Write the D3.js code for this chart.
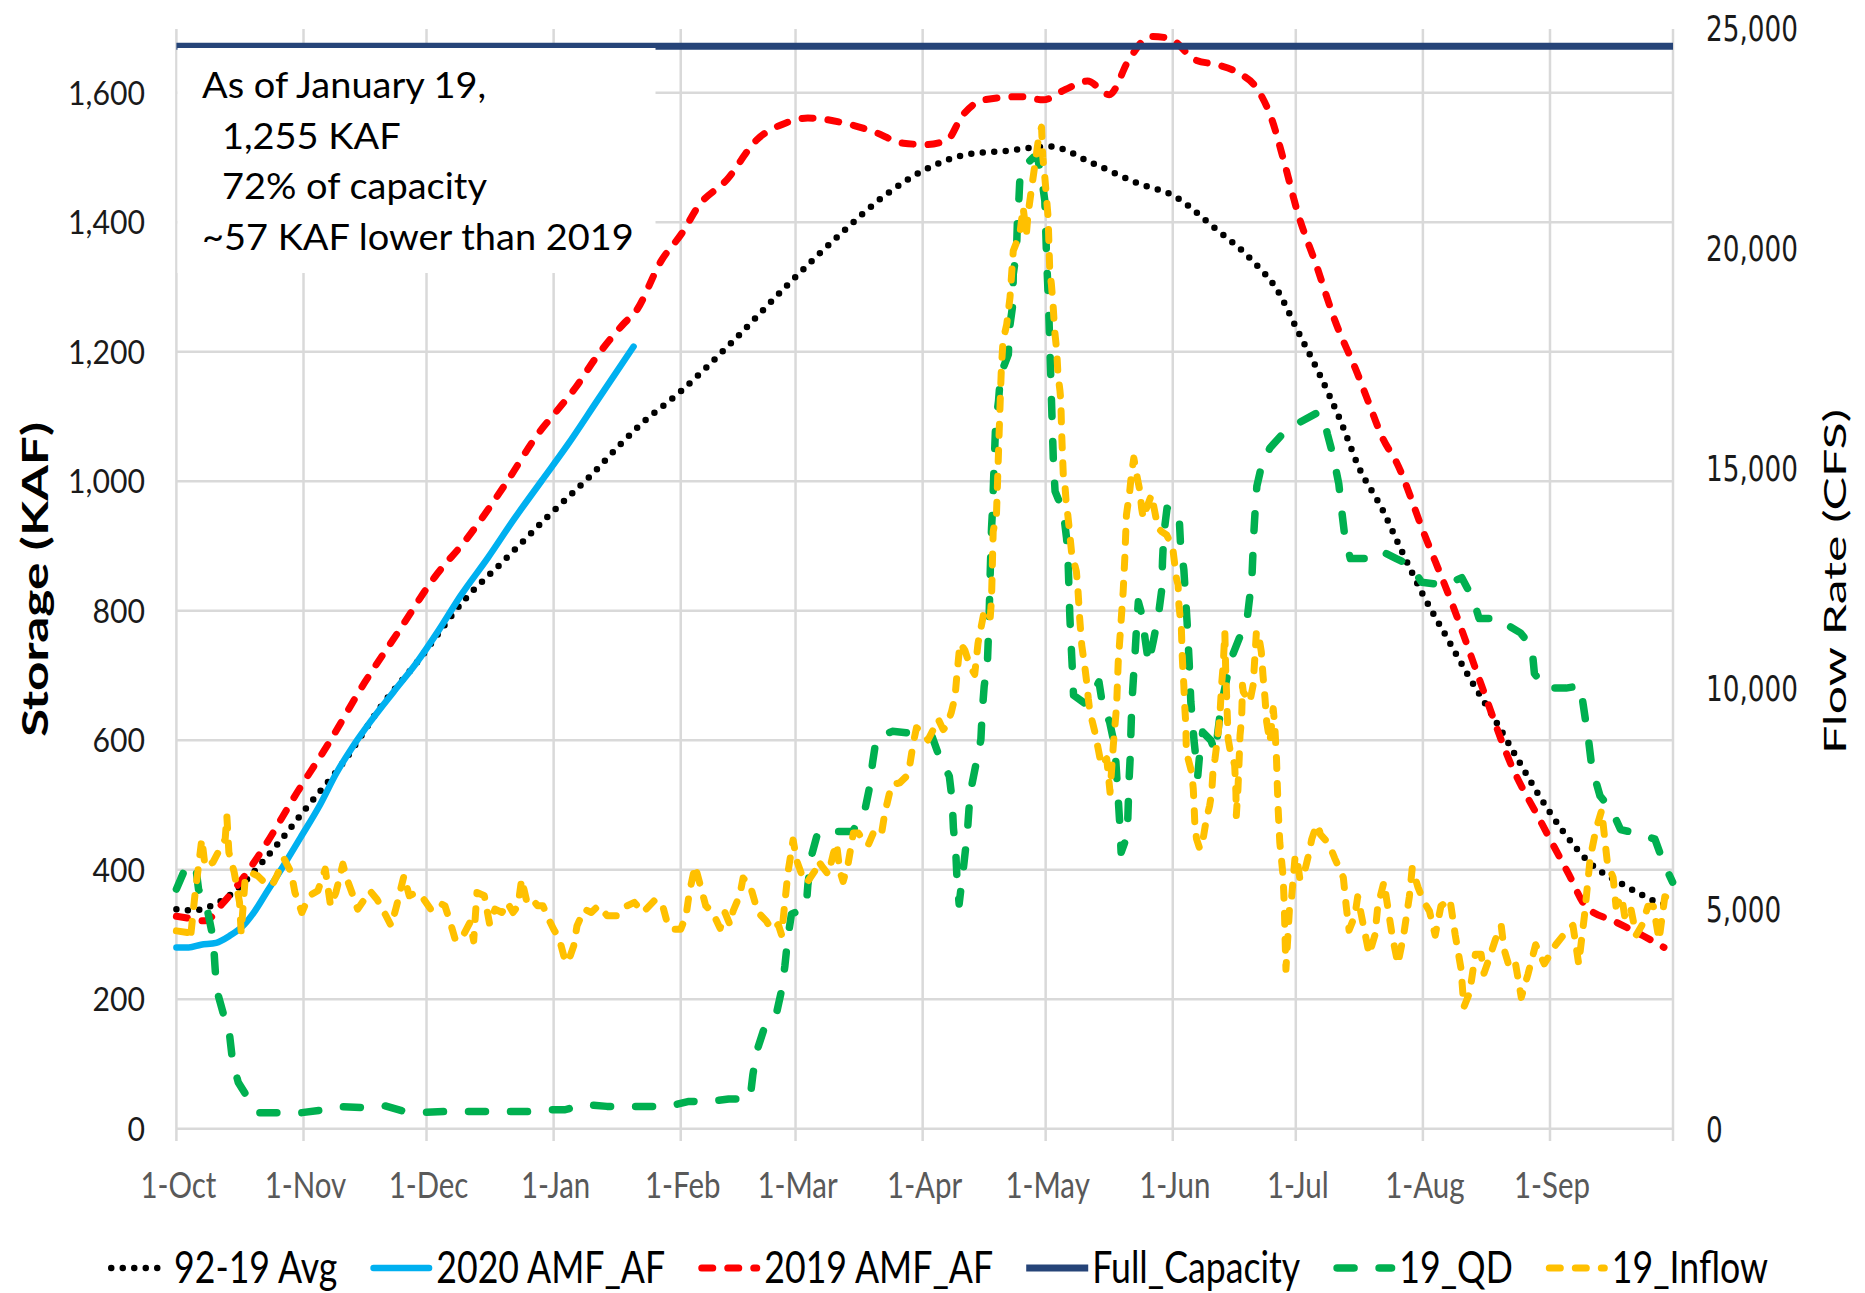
<!DOCTYPE html>
<html><head><meta charset="utf-8">
<script src="https://cdn.jsdelivr.net/npm/d3@7"></script>
<style>html,body{margin:0;padding:0;background:#fff;} svg{display:block;}</style>
</head><body>
<svg id="chart" width="1865" height="1293"></svg>
<script>
// ---------------- DATA ----------------
// x values are days since 1-Oct (water year), y values in KAF (storage) or CFS (flow)
const monthLabels = ["1-Oct","1-Nov","1-Dec","1-Jan","1-Feb","1-Mar","1-Apr","1-May","1-Jun","1-Jul","1-Aug","1-Sep"];
const storageTicks = [0,200,400,600,800,1000,1200,1400,1600];
const flowTicks = [0,5000,10000,15000,20000,25000];
const seriesNames = ["92-19 Avg","2020 AMF_AF","2019 AMF_AF","Full_Capacity","19_QD","19_Inflow"];
const annotationLines = ["As of January 19,","1,255 KAF","72% of capacity","~57 KAF lower than 2019"];
const fullCapacity = 1672;

const avg9219 = [[0,339],[4,337],[8,343],[12,356],[17.5,387],[21,412],[25,442],[31,490],[40.5,564],[50,653],[59,723],[70,815],[79.5,875],[90.5,945],[102,1015],[108,1055],[113.3,1088],[122.5,1136],[136,1218],[149.5,1306],[163,1388],[172.5,1440],[182.5,1481],[193,1505],[202,1510],[213,1517],[223.5,1491],[234.5,1460],[243.5,1440],[252.5,1395],[262.5,1340],[268.5,1295],[273.5,1232],[278.8,1165],[283.8,1095],[288.5,1020],[294,958],[299,890],[304,825],[310,757],[315.5,695],[321,638],[327,572],[332.5,513],[338,461],[345,409],[352,380],[357.5,361],[363,346],[364.5,345]];

const amf2020 = [[0,280],[3,280],[6,284],[9.7,287],[13,298],[16.2,313],[19,335],[21.6,361],[26,405],[30.3,450],[35,500],[39,549],[43,590],[47.6,631],[53,675],[58.5,719],[64,770],[69.3,823],[76,882],[82.3,941],[89,1000],[95.4,1056],[102.8,1126],[111.5,1208]];

const amf2019 = [[0,328],[3,325],[7,321],[11,346],[16,385],[21,431],[29.5,520],[37,594],[46,690],[54.5,771],[63,852],[70.8,911],[80.7,1000],[88.3,1074],[92.7,1108],[97.5,1146],[102,1188],[109.2,1244],[112,1262],[118.2,1340],[123.5,1385],[127.2,1424],[134.3,1466],[141.5,1527],[148.5,1553],[154,1561],[163,1553],[170,1540],[177.3,1522],[182.8,1520],[188,1527],[191.6,1564],[197,1589],[205.9,1594],[211.4,1589],[216.8,1605],[222.2,1618],[227.5,1597],[232.3,1651],[237.6,1687],[242.2,1684],[248.4,1651],[253.9,1643],[259.2,1630],[263.7,1605],[267.2,1558],[270,1497],[273.5,1414],[278.1,1332],[282.5,1249],[288,1167],[290.5,1126],[294.3,1065],[297.5,1030],[304.3,919],[311.3,808],[318.4,683],[325.4,564],[332.6,476],[339.5,394],[343.8,343],[350.8,320],[357.7,298],[362.8,280]];

const qd19 = [[0,5442],[2.3,5943],[3.5,6000],[4.7,5965],[5.4,5440],[7.6,4948],[9,4304],[9.4,3700],[9.8,3165],[11.6,2557],[12.9,2186],[13.7,1532],[15.1,1047],[17.7,660],[20.2,364],[30,357],[35.9,430],[40,500],[45.5,480],[50.6,525],[55,410],[60.3,370],[65.4,390],[80.2,390],[85.3,390],[90.2,430],[94.8,430],[99.2,550],[105,507],[120,507],[125,620],[130,615],[134.7,675],[139.9,675],[140.6,1230],[141.6,1776],[143.5,2322],[146.4,2641],[147.6,3147],[148.4,3696],[149.1,4326],[150,4873],[153.6,5032],[154,5533],[154.9,6205],[156.4,6717],[161.3,6753],[164.9,6753],[167.8,7183],[169,7732],[169.8,8320],[170.7,8869],[174.6,9025],[178.8,8987],[184.3,8910],[186.1,8438],[188.5,8008],[189.2,7459],[189.5,6831],[190.1,6243],[190.4,5615],[190.9,5105],[192.1,6048],[192.9,6717],[193.3,7264],[194,7810],[196.2,8835],[196.5,9418],[197,10042],[197.8,10595],[198.2,11600],[198.5,12700],[198.8,13639],[199.1,14170],[199.4,15000],[199.8,15991],[200.5,16524],[201,17130],[202.9,17585],[203.2,18193],[204,18724],[204.1,19406],[204.9,19939],[205.1,20584],[205.5,21153],[205.8,21760],[209,22064],[210,22064],[211,21609],[211.8,21078],[212.2,19862],[212.7,18724],[213.1,17510],[213.5,16296],[213.9,15119],[214.3,14475],[216.3,14020],[217.1,13411],[217.5,12804],[217.9,11628],[218.2,11025],[218.5,10452],[218.8,9844],[221.7,9654],[223.5,9900],[225,10149],[225.9,9616],[227.6,9238],[228.9,8669],[229.3,8060],[229.7,7491],[230.1,6883],[230.4,6277],[231.9,6656],[232.1,7225],[232.3,7833],[232.6,8402],[232.8,9010],[233,9616],[233.4,10224],[233.8,10793],[234.2,11438],[234.6,11970],[235.5,11665],[236.3,11096],[237.1,10565],[238.3,11096],[239.5,11665],[240.3,12234],[240.5,12900],[240.8,13487],[241.6,14094],[244.5,14020],[244.9,13259],[245.7,12700],[246.5,11500],[247,10600],[247.4,9700],[248.2,8800],[249.1,8023],[249.5,8441],[250.3,9010],[252.3,8820],[253.4,8555],[254.6,9465],[255.5,9920],[257.1,10641],[259.2,11134],[261.2,11628],[262.3,12500],[262.7,13411],[263.1,14056],[263.5,14588],[264.7,15081],[266.7,15461],[270,15802],[273.7,16030],[278.2,16258],[279.7,16200],[280.7,15782],[282.1,15292],[283.5,14641],[284.2,14040],[284.9,13494],[286.3,12949],[291.2,12949],[293.9,13116],[297.5,12949],[301.1,12785],[303.7,12410],[309.3,12350],[313.5,12514],[316.3,12022],[317.7,11590],[322.9,11590],[324.9,11424],[327.8,11262],[330.6,10934],[331.2,10338],[333.9,10007],[338.9,10007],[342.4,10064],[343.1,9631],[344.5,8755],[345.2,8210],[347.2,7560],[350.1,7230],[352.2,6795],[357.1,6685],[360.6,6576],[362.7,6034],[364.9,5601]];

const inflow19 = [[0,4493],[2.8,4456],[3.4,4300],[4.5,5290],[6.2,6580],[7,5950],[8.9,6050],[10.6,6353],[11.9,6580],[12.3,7111],[12.8,6277],[14.1,5822],[15.4,5139],[15.8,4456],[16.7,5594],[18,5822],[19.8,5745],[21.5,5594],[23.3,5518],[24.5,5745],[26.3,6125],[28,5822],[28.9,5366],[30.6,4911],[32.4,5290],[34.5,5404],[36.3,5897],[37.6,5062],[38.9,5366],[40.6,6011],[41.6,5670],[42.8,5366],[44.2,4987],[45.9,5214],[47.2,5404],[48.9,5214],[50.7,4911],[52.4,4607],[53.7,5062],[55.5,5745],[56.8,5290],[58.5,5366],[60.3,5214],[62,4987],[63.8,5139],[65.5,5062],[66.8,4684],[68.1,4265],[69.9,4379],[71.6,4684],[72.5,4265],[73.3,5366],[75.1,5290],[76.4,4645],[77.7,4987],[79.4,4911],[80.7,5139],[82.1,4911],[83.3,5062],[84.2,5670],[85.5,5139],[86.8,5214],[88.1,5062],[89.4,5062],[90.8,4759],[92,4531],[93.4,4304],[94.7,3848],[95.5,3772],[96.9,4152],[97.7,4607],[99.5,4987],[101.2,4911],[102.9,5062],[105.1,4835],[107.3,4835],[109.9,5062],[111.7,5139],[113.8,4911],[116.9,5214],[118.6,5062],[119.9,4607],[121.2,4531],[123,4531],[124.3,4835],[125.1,5366],[126.5,5973],[127.8,5518],[129.1,5062],[130.8,4911],[132.6,4550],[133.8,4909],[135,4636],[135.8,4950],[137.4,5305],[138.2,5693],[139.9,5538],[141.1,5146],[141.9,4909],[143.9,4713],[145.2,4518],[146.8,4636],[147.6,4401],[148.4,5146],[149.2,5852],[150.4,6558],[151.3,6086],[152.5,5772],[153.7,5579],[155.7,5852],[156.5,6086],[157.7,5929],[159,5772],[160.2,6243],[161,6478],[161.8,5852],[162.6,5615],[163.8,6007],[165.1,6717],[166.3,6717],[167.5,6558],[168.7,6439],[170.3,6792],[172,6717],[172.8,7184],[174.4,7810],[176.4,7855],[178.1,8008],[178.9,8281],[179.7,8752],[180.5,9108],[181.7,9025],[183.3,8830],[184.6,9064],[185.8,9301],[187,9064],[187.8,9144],[189,9458],[189.9,9811],[190.3,10242],[191.1,11025],[192.3,10868],[193.5,10517],[194.7,10320],[195.5,11025],[196.8,11654],[198.4,11496],[198.8,12045],[199.2,13563],[200,13942],[200.4,15080],[200.8,16220],[201.2,17282],[201.6,17890],[202.5,18268],[203.3,18876],[203.7,19406],[204.1,19939],[205.7,20317],[206.5,20925],[207.3,20317],[207.7,20773],[208.6,21381],[210.2,22442],[211,22750],[211.3,22064],[211.8,21609],[212.2,21153],[212.6,20698],[213,19484],[213.4,19179],[213.8,18724],[214.2,18124],[214.7,17669],[215,17130],[215.5,16751],[215.7,16531],[215.9,15800],[216.3,14853],[216.7,14625],[217.1,14094],[217.4,13942],[217.9,13487],[218.3,13108],[219.5,12653],[219.9,12200],[220.3,11590],[220.8,10982],[221.6,10452],[222,10149],[222.4,9768],[222.8,9465],[224,9010],[224.8,8631],[225.6,8252],[226.9,8402],[227.7,7643],[228.5,8707],[229.3,9600],[229.7,10603],[230.1,11134],[230.5,11665],[230.9,12198],[231.3,12956],[231.7,13942],[232.5,14475],[232.9,14853],[233.5,15233],[234.2,14853],[235,14475],[235.4,14094],[235.8,13866],[236.6,14094],[237.8,14397],[238.6,14020],[239.4,13639],[240.3,13563],[241.5,13487],[241.9,13411],[243.1,13108],[243.5,12804],[243.9,12501],[244.3,12349],[244.5,11893],[245.1,11362],[245.3,10755],[245.5,10376],[245.7,10073],[245.9,9616],[246.2,9161],[246.3,8555],[247.6,8099],[248,7719],[248.2,7339],[248.4,6884],[248.8,6580],[249.6,6353],[250.4,6580],[251.2,7036],[252,7339],[252.5,7643],[252.8,8099],[253.3,8402],[254.1,9010],[254.5,9388],[254.9,10073],[255.3,10527],[255.7,11286],[255.9,10452],[256.1,9920],[256.3,9388],[256.5,8858],[257.2,8479],[257.7,8402],[258.1,8252],[258.4,7643],[258.5,7111],[258.9,7719],[259.2,8402],[259.4,8934],[259.8,9313],[260,10073],[260.2,9920],[261.8,9693],[262.6,10073],[263,10679],[263.4,11286],[263.8,11286],[264.6,10831],[265,10300],[265.5,9770],[265.9,9238],[266.3,9010],[266.7,8783],[267.5,9541],[267.9,9120],[268.3,8402],[268.5,7795],[268.7,7264],[269.1,6505],[269.5,6125],[269.9,5745],[270.2,5062],[270.4,4300],[270.6,3620],[271.6,5214],[272,5269],[272.8,6141],[273.2,6200],[274,5670],[274.8,5704],[276.2,6250],[276.9,6580],[278,6884],[278.4,6904],[279,6685],[281.1,6467],[282.5,6141],[284.6,5704],[285.3,5055],[286,4508],[287.4,4835],[288.1,5269],[289.5,4615],[290.9,3962],[292.3,4394],[293,5055],[294.5,5601],[295.5,5000],[296.5,4394],[297.9,3743],[299.3,4394],[300.7,5269],[301.4,5920],[302.8,5487],[304.2,5160],[305.6,4941],[307,4394],[308.4,5055],[310.6,5214],[311.9,4394],[313.3,3634],[314,2762],[315.4,3090],[316.8,3962],[318.2,3962],[318.9,3529],[320.3,3900],[321.7,4300],[323.1,4615],[323.8,4076],[325.2,3634],[326.6,3743],[328,2983],[329.6,3500],[331.5,4178],[333.6,3743],[336.4,4178],[339.2,4508],[340.6,4615],[342,3743],[343.4,4835],[344.8,6141],[346.2,6795],[347.6,7230],[349,6034],[350.4,5704],[351.1,5055],[352.5,5269],[353.2,4835],[354.6,5055],[356,4394],[357.4,4615],[358.9,5055],[360.2,5055],[361.6,4290],[363,5269],[364.4,5214]];

// ---------------- LAYOUT ----------------
const X0 = 176.4, X1 = 1673, YTOP = 28, YBOT = 1128.7;
const FONT = "Lato, 'Open Sans', sans-serif";
const START = Date.UTC(2018, 9, 1), END = Date.UTC(2019, 9, 1);
const dayToDate = d => new Date(START + d * 864e5);

const svg = d3.select("#chart");
svg.append("rect").attr("width",1865).attr("height",1293).attr("fill","#fff");

const x = d3.scaleUtc().domain([new Date(START), new Date(END)]).range([X0, X1]);
const yL = d3.scaleLinear().domain([0, 1700]).range([YBOT, YTOP]);
const yR = d3.scaleLinear().domain([0, 25000]).range([YBOT, YTOP]);

// measuring helper
const meas = svg.append("text").attr("visibility","hidden");
function measure(str, size, weight, family) {
  meas.attr("font-family", family || FONT).attr("font-size", size).attr("font-weight", weight || 400).text(str);
  return meas.node().getComputedTextLength();
}
function addText(parent, str, o) {
  const tr = `translate(${o.x},${o.y})` + (o.rotate ? ` rotate(${o.rotate})` : "") + ` scale(${o.sx || 1},1)`;
  const t = parent.append("text").attr("transform", tr)
    .attr("font-family", o.family || FONT).attr("font-size", o.size)
    .attr("font-weight", o.weight || 400).attr("fill", o.fill || "#000")
    .attr("text-anchor", o.anchor || "start").text(str);
  if (o.textLength) t.attr("textLength", o.textLength).attr("lengthAdjust", "spacingAndGlyphs");
  return t;
}

// ---------------- GRID ----------------
const monthDates = d3.utcMonth.range(new Date(START), new Date(END + 1));
const grid = svg.append("g").attr("stroke", "#d9d9d9").attr("stroke-width", 2.5);
grid.selectAll("line.h").data(storageTicks).join("line").attr("class","h")
  .attr("x1", X0).attr("x2", X1).attr("y1", d => yL(d)).attr("y2", d => yL(d));
grid.selectAll("line.v").data(monthDates).join("line").attr("class","v")
  .attr("x1", d => x(d)).attr("x2", d => x(d)).attr("y1", YTOP + 1).attr("y2", 1141);

// ---------------- AXIS LABELS ----------------
const axes = svg.append("g");
const sxX = 76 / measure("1-Oct", 36);
monthDates.slice(0, 12).forEach((d, i) => {
  addText(axes, monthLabels[i], {x: x(d) + 2, y: 1198, size: 36, fill: "#595959", anchor: "middle", sx: sxX});
});
const sxL = 77 / measure("1,600", 33);
storageTicks.forEach(v => {
  addText(axes, d3.format(",")(v), {x: 145, y: yL(v) + 12, size: 33, fill: "#1a1a1a", anchor: "end", sx: sxL});
});
const RF = "'DejaVu Sans', Verdana, sans-serif";
const sxR = 92 / measure("25,000", 36, 400, RF);
flowTicks.forEach(v => {
  addText(axes, d3.format(",")(v), {x: 1706, y: yR(v) + 13, size: 36, fill: "#1a1a1a", family: RF, sx: sxR});
});
addText(axes, "Storage (KAF)", {x: 47.6, y: 579.5, size: 37, weight: 700, rotate: -90, anchor: "middle", textLength: 315});
addText(axes, "Flow Rate (CFS)", {x: 1846, y: 581.5, size: 31, rotate: -90, anchor: "middle", textLength: 345});

// ---------------- SERIES ----------------
const styles = [
  {color: "#000000", width: 6.5, dash: "0 11.5"},
  {color: "#00b0f0", width: 6.5, dash: null},
  {color: "#ff0000", width: 7, dash: "11 15"},
  {color: "#264478", width: 7, dash: null, cap: "butt"},
  {color: "#00b050", width: 7.5, dash: "17 25"},
  {color: "#ffc000", width: 7, dash: "11 15"}
];
function stylePath(p, s) {
  p.attr("fill", "none").attr("stroke", s.color).attr("stroke-width", s.width)
   .attr("stroke-linecap", s.cap || "round").attr("stroke-linejoin", "round");
  if (s.dash) p.attr("stroke-dasharray", s.dash);
  return p;
}
const lineSmoothL = d3.line().x(d => x(dayToDate(d[0]))).y(d => yL(d[1])).curve(d3.curveMonotoneX);
const lineR = d3.line().x(d => x(dayToDate(d[0]))).y(d => yR(d[1]));
const plot = svg.append("g");
stylePath(plot.append("path").attr("d", lineSmoothL(avg9219)), styles[0]);
stylePath(plot.append("path").attr("d", lineSmoothL(amf2020)), styles[1]);
stylePath(plot.append("path").attr("d", lineSmoothL(amf2019)), styles[2]);
stylePath(plot.append("path").attr("d", lineSmoothL([[0, fullCapacity], [365, fullCapacity]])), styles[3]);
stylePath(plot.append("path").attr("d", lineR(qd19)), styles[4]);
stylePath(plot.append("path").attr("d", lineR(inflow19)), styles[5]);

// ---------------- ANNOTATION ----------------
const ann = svg.append("g");
ann.append("rect").attr("x", 177.5).attr("y", 48).attr("width", 478).attr("height", 225).attr("fill", "#fff");
const sxA = 432 / measure(annotationLines[3], 36);
const annX = [202, 222, 222, 202];
annotationLines.forEach((s, i) => addText(ann, s, {x: annX[i], y: 97.7 + i * 50.8, size: 36, sx: sxA}));

// ---------------- LEGEND ----------------
const leg = svg.append("g");
const LS = 44;
const natW = seriesNames.map(s => measure(s, LS));
const sxG = 1099 / d3.sum(natW);
const tw = natW.map(w => w * sxG);
const SYM = 62, GAP_T = 4, GAP_I = 33;
const total = d3.sum(tw) + seriesNames.length * (SYM + GAP_T) + (seriesNames.length - 1) * GAP_I;
let cx = 938 - total / 2;
seriesNames.forEach((name, i) => {
  const s = styles[i];
  const inset = (s.cap === "butt") ? 0 : s.width / 2;
  stylePath(leg.append("path").attr("d", `M${cx + inset},1268H${cx + SYM - inset}`), s);
  addText(leg, name, {x: cx + SYM + GAP_T, y: 1283, size: LS, sx: sxG});
  cx += SYM + GAP_T + tw[i] + GAP_I;
});
meas.remove();
</script>
</body></html>
